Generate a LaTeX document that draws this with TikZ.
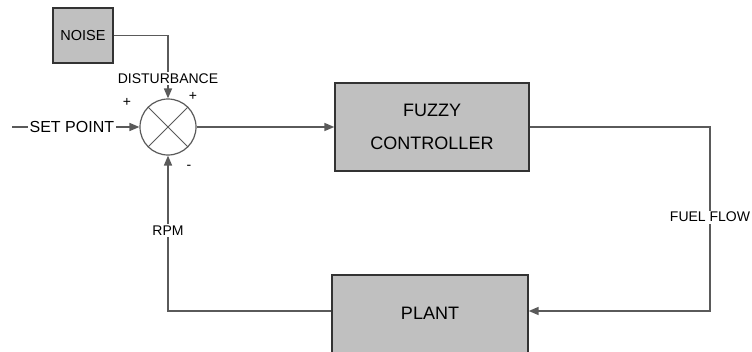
\documentclass[tikz,border=0pt]{standalone}
\usepackage{fontspec}
\setmainfont{Liberation Sans}
\usetikzlibrary{positioning,arrows.meta,calc}
\definecolor{blockfill}{HTML}{C0C0C0}
\definecolor{blockline}{HTML}{333333}
\definecolor{wire}{HTML}{5A5A5A}
\tikzset{
  block/.style={draw=blockline, fill=blockfill, line width=1.3pt, align=center,
                inner sep=0pt, font=\fontsize{18}{33}\selectfont},
  sumnode/.style={circle, draw=wire, fill=white, line width=1.2pt, minimum size=56pt,
                inner sep=0pt},
  lbl/.style={fill=white, inner sep=1.5pt, font=\fontsize{14}{16}\selectfont},
  sgn/.style={font=\fontsize{14}{16}\selectfont, inner sep=0pt},
  wireline/.style={draw=wire, line width=1.6pt},
  arr/.style={wireline, -{Triangle[length=10pt,width=8pt]}},
}
\begin{document}
\begin{tikzpicture}[x=1pt,y=-1pt]
\useasboundingbox (0,0) rectangle (752,351);
% blocks
\node[block, minimum width=60pt, minimum height=55pt, font=\fontsize{14.5}{16}\selectfont]
  (noise) at (83,35.5) {NOISE};
\node[sumnode] (sum) at (168,127) {};
\draw[wire, line width=1pt] (sum.north west) -- (sum.south east)
  (sum.north east) -- (sum.south west);
\node[block, minimum width=194pt, minimum height=88pt] (ctrl) at (432,127) {FUZZY\\CONTROLLER};
\node[block, minimum width=196pt, minimum height=80pt] (plant) at (430,315) {\raisebox{4pt}{PLANT}};
% loop corners
\coordinate (sp) at (12,127);
\coordinate (ffb) at (710,311);
% signals
\draw[arr] (sp) -- node[lbl, pos=0.47, font=\fontsize{16}{18}\selectfont] {SET POINT} (sum.west);
\draw[arr] (noise.east) -| node[lbl, pos=0.84] {DISTURBANCE} (sum.north);
\draw[arr] (sum.east) -- (ctrl.west);
\draw[arr] (ctrl.east) -| node[lbl, pos=0.745] {FUEL FLOW} (ffb) -- (plant.east |- ffb);
\draw[arr] (plant.west |- ffb) -| node[lbl, pos=0.76] {RPM} (sum.south);
% signs
\node[sgn] (plusl) at (127,102) {+};
\node[sgn] (plusr) at (193,96) {+};
\node[sgn] (minus) at (189,167) {-};
\end{tikzpicture}
\end{document}
